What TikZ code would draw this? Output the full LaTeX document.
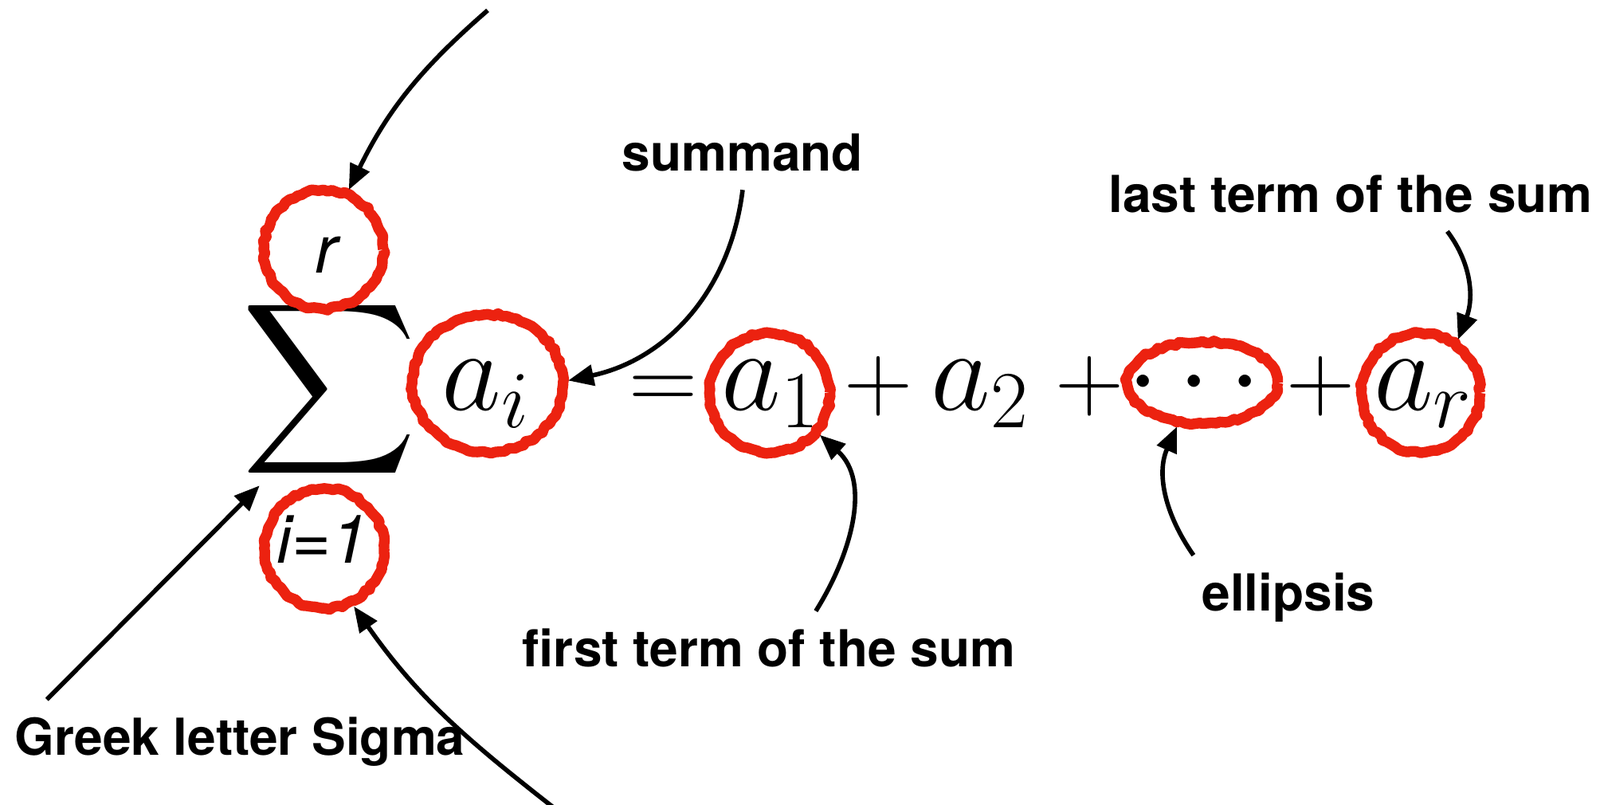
\RequirePackage{fix-cm}
\documentclass[tikz,border=0pt]{standalone}
\usepackage{amsmath}
\usepackage{fontspec}
\setsansfont{TeX Gyre Heros}
\usetikzlibrary{arrows.meta,shapes.geometric,calc,decorations.pathmorphing}
\definecolor{crayonred}{RGB}{236,34,16}
\newcommand{\eqsize}{\fontsize{41.3}{48}\selectfont}
\newcommand{\opsize}{\fontsize{34}{40}\selectfont}
\newcommand{\limsize}{\fontsize{24}{28}\selectfont\sffamily\itshape}
\newcommand{\lblsize}{\fontsize{18.2}{22}\selectfont\sffamily\bfseries}

\begin{document}
\begin{tikzpicture}[
    pointer/.style={-{Triangle[length=3.2mm,width=2.6mm]}, line width=1.6pt},
    ring/.style={ellipse, draw=crayonred, line width=3.8pt, line join=round, inner sep=0pt,
                 decorate, decoration={random steps,segment length=1.6pt,amplitude=0.5pt}},
    term/.style={anchor=base, inner sep=0pt, font=\eqsize},
    oper/.style={anchor=base, inner sep=0pt, font=\opsize},
    lim/.style={anchor=base, inner sep=0pt, font=\limsize},
    lbl/.style={anchor=base, inner xsep=1mm, inner ysep=2.2mm, font=\lblsize}
  ]
  \fill[white] (0,0) rectangle (20.08,10.10);
  \useasboundingbox (0,0) rectangle (20.08,10.10);

  % The formula
  \node[inner sep=0pt] (sumsym) at (4.135,5.215)
    {\resizebox*{2.20cm}{2.40cm}{$\displaystyle\sum$}};
  \node[term] (termai) at (6.10,4.95) {$a_i$};
  \node[oper] (eqsign) at (8.33,4.95) {$=$};
  \node[term] (terma1) at (9.67,4.95) {$a_1$};
  \node[oper] (plusone) at (11.03,4.95) {$+$};
  \node[term] (terma2) at (12.30,4.95) {$a_2$};
  \node[oper] (plustwo) at (13.68,4.95) {$+$};
  \node[term] (dotsym) at (15.11,4.95) {$\cdots$};
  \node[oper] (plusthree) at (16.57,4.95) {$+$};
  \node[term] (termar) at (17.86,4.95) {$a_r$};

  % Limits
  \node[lim] (uplim) at (4.10,6.67) {r};
  \node[lim] (lowlim) at (4.05,3.03) {i=1};

  % Red rings
  \node[ring, minimum width=1.50cm, minimum height=1.49cm] (ringr) at (4.06,6.97) {};
  \node[ring, minimum width=1.50cm, minimum height=1.50cm] (ringlow) at (4.07,3.22) {};
  \node[ring, minimum width=1.89cm, minimum height=1.73cm] (ringai) at (6.12,5.29) {};
  \node[ring, minimum width=1.51cm, minimum height=1.50cm] (ringa1) at (9.66,5.17) {};
  \node[ring, minimum width=1.89cm, minimum height=1.03cm] (ringdots) at (15.09,5.30) {};
  \node[ring, minimum width=1.49cm, minimum height=1.50cm] (ringar) at (17.83,5.17) {};

  % Labels
  \node[lbl] (summandlbl) at (9.32,7.95) {summand};
  \node[lbl] (lastlbl) at (16.95,7.43) {last term of the sum};
  \node[lbl] (firstlbl) at (9.65,1.73) {first term of the sum};
  \node[lbl] (ellipsislbl) at (16.17,2.43) {ellipsis};
  \node[lbl] (sigmalbl) at (3.01,0.62) {Greek letter Sigma};

  % Arrows
  \coordinate (topfoot) at (6.12,9.97);
  \coordinate (botfoot) at (6.97,-0.05);
  \draw[pointer] (topfoot) to[out=221, in=64] (ringr.67);
  \draw[pointer] (summandlbl.south) to[out=263, in=12] (ringai.2);
  \draw[pointer] ($(lastlbl.south west)!0.693!(lastlbl.south east)$) to[out=-53, in=69] (ringar.55);
  \draw[pointer] ($(firstlbl.north west)!0.592!(firstlbl.north east)$) to[out=58, in=-42] (ringa1.-40);
  \draw[pointer] (ellipsislbl.north west) to[out=125, in=-114] (ringdots.240);
  \draw[pointer] ($(sigmalbl.north west)!0.087!(sigmalbl.north east)$) -- (sumsym.234);
  \draw[pointer] (botfoot) to[out=142, in=-55] (ringlow.-63);
\end{tikzpicture}
\end{document}
